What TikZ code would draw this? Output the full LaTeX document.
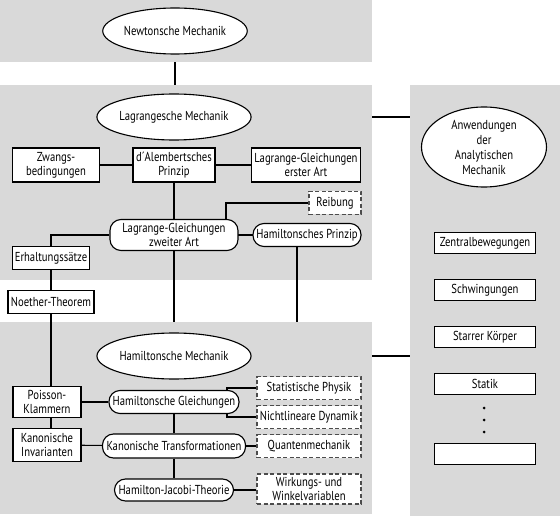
\documentclass[tikz,border=0pt]{standalone}
\usepackage{fontspec}
\setmainfont{PT Sans}[FakeStretch=0.82]
\usetikzlibrary{shapes.geometric}

\begin{document}
\begin{tikzpicture}[x=1pt,y=-1pt,
  every node/.style={font=\fontsize{13}{14}\selectfont, align=center, inner sep=0pt},
  band/.style={fill=black!15},
  kasten/.style={draw, fill=white, line width=1.1pt, minimum height=23pt},
  strich/.style={draw=black!70, fill=white, line width=1.1pt, dash pattern=on 4pt off 2.5pt, minimum width=104pt, minimum height=23pt},
  rund/.style={draw, fill=white, line width=1.1pt, rounded corners=11pt, minimum height=23pt},
  oval/.style={draw, fill=white, ellipse, line width=1.1pt, minimum width=142pt, minimum height=46pt},
  verb/.style={line width=1.1pt}]

\useasboundingbox (0,0) rectangle (560,516);

%color

\node[band, minimum width=372pt, minimum height=62pt] (newtonband) at (186,31) {};
\node[band, minimum width=372pt, minimum height=195pt] (lagrangeband) at (186,182.5) {};
\node[band, minimum width=372pt, minimum height=192pt] (hamband) at (186,418) {};
\node[band, minimum width=150pt, minimum height=431pt] (anwband) at (485,300.5) {};

% lines

\draw[verb] (newtonband.south -| 175,0) -- (lagrangeband.north -| 175,0);
\draw[verb] (56,165) -- (306,165);
\draw[verb] (174,165) -- (174,235);
\draw[verb] (174,235) -- (174,322);
\draw[verb] (307,235) -- (174,235);

% Lagrange

\node[oval] (newton) at (175,31) {Newtonsche Mechanik};
\node[oval] (lagrange) at (174,117) {Lagrangesche Mechanik};

\node[kasten, minimum width=87pt, minimum height=34pt] (zwang) at (56,165) {Zwangs-\\bedingungen};
\node[kasten, minimum width=82pt, minimum height=34pt] (alembert) at (174,165) {d´Alembertsches\\Prinzip};
\node[kasten, minimum width=109pt, minimum height=34pt] (erster) at (306,165) {Lagrange-Gleichungen\\erster Art};
\node[strich, minimum width=52pt] (reibung) at (335,203) {Reibung};

\node[rund, minimum width=128pt, minimum height=31pt] (zweiter) at (174,235) {Lagrange-Gleichungen\\zweiter Art};
\node[rund, minimum width=108pt] (hprinzip) at (307,235) {Hamiltonsches Prinzip};

\node[kasten, minimum width=77pt] (erhaltung) at (51,258) {Erhaltungssätze};
\node[kasten, minimum width=86pt] (noether) at (51,302) {Noether-Theorem};

% Hamilton

\node[oval] (hamilton) at (174,356) {Hamiltonsche Mechanik};

\node[kasten, minimum width=68pt, minimum height=31pt] (poisson) at (47,402) {Poisson-\\Klammern};
\node[kasten, minimum width=68pt, minimum height=33pt] (invarianten) at (47,445) {Kanonische\\Invarianten};

\node[rund, minimum width=130pt] (hgleich) at (174,402) {Hamiltonsche Gleichungen};
\node[rund, minimum width=143pt, minimum height=24pt] (ktrafo) at (174,446) {Kanonische Transformationen};
\node[rund, minimum width=119pt, minimum height=22pt] (hjacobi) at (174,490) {Hamilton-Jacobi-Theorie};

\node[strich] (statphys) at (309,388) {Statistische Physik};
\node[strich] (nldyn) at (309,417) {Nichtlineare Dynamik};
\node[strich] (quanten) at (309,446) {Quantenmechanik};
\node[strich, minimum height=30pt] (wirkung) at (309,489) {Wirkungs- und\\Winkelvariablen};

% Anwendungen

\node[oval, minimum width=125pt, minimum height=80pt, font=\fontsize{13}{15}\selectfont] (anwendung) at (484,147) {Anwendungen\\der\\Analytischen\\Mechanik};

\node[kasten, minimum width=101pt, minimum height=21pt] (zentral) at (485,243) {Zentralbewegungen};
\node[kasten, minimum width=101pt, minimum height=21pt] (schwing) at (485,290) {Schwingungen};
\node[kasten, minimum width=101pt, minimum height=21pt] (starr) at (485,337) {Starrer Körper};
\node[kasten, minimum width=101pt, minimum height=21pt] (statik) at (485,384) {Statik};
\node[kasten, minimum width=101pt, minimum height=21pt] (leer) at (485,454) {};

\fill (484,408) circle (1.5pt);
\fill (484,420) circle (1.5pt);
\fill (484,432) circle (1.5pt);

% connections

\draw[verb] (reibung) -| ([xshift=52pt]zweiter.north);
\draw[verb] (zweiter) -| (erhaltung);
\draw[verb] (erhaltung) -- (noether);
\draw[verb] (noether.south) -- (noether.south |- poisson.north);
\draw[verb] (poisson.south -| noether) -- (invarianten.north -| noether);
\draw[verb] ([xshift=-10pt]hprinzip.south) -- ([xshift=-10pt]hprinzip.south |- hamband.north);

\draw[verb] (poisson) -- (hgleich);
\draw[verb] (invarianten) -- (ktrafo);
\draw[verb] (hgleich) -- (ktrafo);
\draw[verb] (ktrafo) -- (hjacobi);
\draw[verb] (ktrafo) -- (quanten);
\draw[verb] (hjacobi) -- (hjacobi -| wirkung.west);
\draw[verb] ([xshift=53pt]hgleich.north) |- (statphys);
\draw[verb] ([xshift=53pt]hgleich.south) |- (nldyn);

\draw[verb] (lagrangeband.east |- lagrange) -- (anwband.west |- lagrange);
\draw[verb] (hamband.east |- hamilton) -- (anwband.west |- hamilton);
\end{tikzpicture}
\end{document}
